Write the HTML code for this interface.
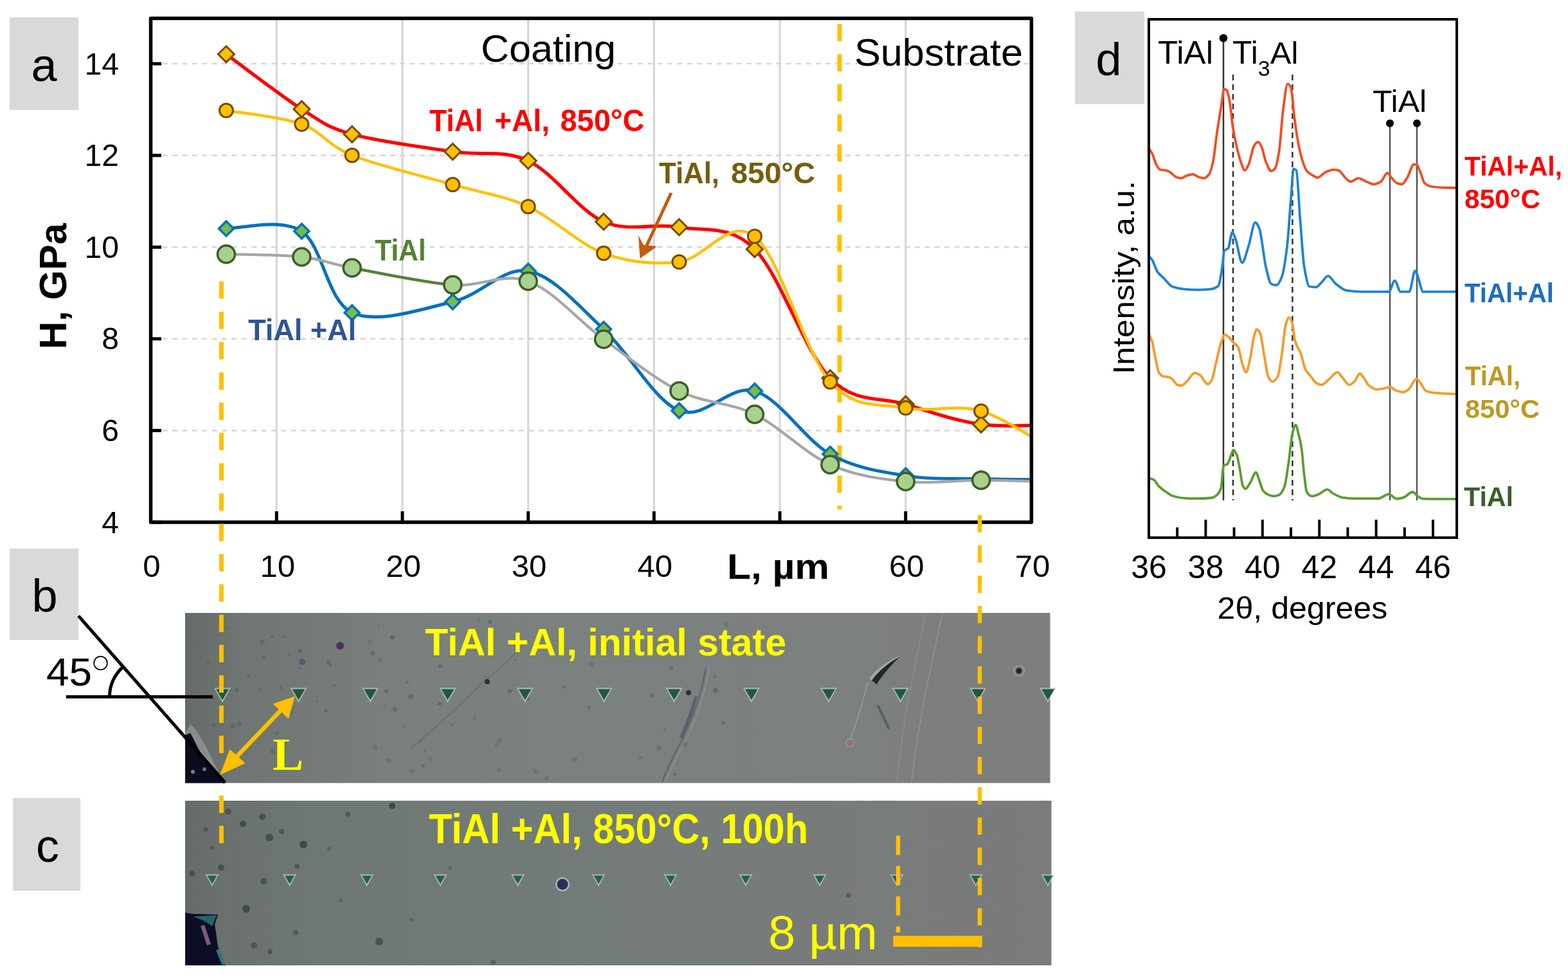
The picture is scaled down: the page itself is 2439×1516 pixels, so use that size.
<!DOCTYPE html>
<html><head><meta charset="utf-8"><title>Figure</title>
<style>
html,body{margin:0;padding:0;background:#fff;}
body{width:2439px;height:1516px;overflow:hidden;}
svg{display:block;}
text{font-family:'Liberation Sans', Arial, sans-serif;}
</style></head><body>
<svg width="2439" height="1516" viewBox="0 0 2439 1516">
<defs>
<clipPath id="plotclip"><rect x="234.5" y="28" width="1369.9" height="786"/></clipPath>
<linearGradient id="imgb" x1="0" y1="0" x2="1" y2="0">
 <stop offset="0" stop-color="#646b68"/>
 <stop offset="0.06" stop-color="#6e7572"/>
 <stop offset="0.23" stop-color="#787f7d"/>
 <stop offset="0.455" stop-color="#7a817f"/>
 <stop offset="0.74" stop-color="#7c807f"/>
 <stop offset="1" stop-color="#7d7e7e"/>
</linearGradient>
<linearGradient id="imgc" x1="0" y1="0" x2="1" y2="0">
 <stop offset="0" stop-color="#646b69"/>
 <stop offset="0.05" stop-color="#6a716f"/>
 <stop offset="0.15" stop-color="#6f7775"/>
 <stop offset="0.35" stop-color="#727a78"/>
 <stop offset="0.57" stop-color="#757c7a"/>
 <stop offset="0.8" stop-color="#787c7b"/>
 <stop offset="1" stop-color="#7a7b7b"/>
</linearGradient>
<radialGradient id="spk" cx="0.5" cy="0.5" r="0.5">
 <stop offset="0" stop-color="#3c4442" stop-opacity="0.8"/>
 <stop offset="1" stop-color="#3c4442" stop-opacity="0"/>
</radialGradient>
</defs>
<rect x="0" y="0" width="2439" height="1516" fill="#ffffff"/>

<rect x="15" y="27" width="107" height="144" fill="#d9d9d9"/>
<text x="68.5" y="126" font-size="72" text-anchor="middle" fill="#000">a</text>
<rect x="15" y="853" width="107" height="142" fill="#d9d9d9"/>
<text x="69.5" y="951" font-size="72" text-anchor="middle" fill="#000">b</text>
<rect x="20" y="1241" width="105" height="144" fill="#d9d9d9"/>
<text x="74" y="1340" font-size="72" text-anchor="middle" fill="#000">c</text>
<rect x="1672" y="18" width="108" height="144" fill="#d9d9d9"/>
<text x="1724.5" y="117" font-size="72" text-anchor="middle" fill="#000">d</text>
<line x1="430.2" y1="30" x2="430.2" y2="810" stroke="#d4d4d4" stroke-width="3"/>
<line x1="625.9" y1="30" x2="625.9" y2="810" stroke="#d4d4d4" stroke-width="3"/>
<line x1="821.6" y1="30" x2="821.6" y2="810" stroke="#d4d4d4" stroke-width="3"/>
<line x1="1017.3" y1="30" x2="1017.3" y2="810" stroke="#d4d4d4" stroke-width="3"/>
<line x1="1213.0" y1="30" x2="1213.0" y2="810" stroke="#d4d4d4" stroke-width="3"/>
<line x1="1408.7" y1="30" x2="1408.7" y2="810" stroke="#d4d4d4" stroke-width="3"/>
<line x1="252.5" y1="669.4" x2="1604.4" y2="669.4" stroke="#d6d6d6" stroke-width="2.5" stroke-dasharray="8 7.4"/>
<line x1="252.5" y1="526.8" x2="1604.4" y2="526.8" stroke="#d6d6d6" stroke-width="2.5" stroke-dasharray="8 7.4"/>
<line x1="252.5" y1="384.3" x2="1604.4" y2="384.3" stroke="#d6d6d6" stroke-width="2.5" stroke-dasharray="8 7.4"/>
<line x1="252.5" y1="241.7" x2="1604.4" y2="241.7" stroke="#d6d6d6" stroke-width="2.5" stroke-dasharray="8 7.4"/>
<line x1="252.5" y1="99.1" x2="1604.4" y2="99.1" stroke="#d6d6d6" stroke-width="2.5" stroke-dasharray="8 7.4"/>
<line x1="1306" y1="37.4" x2="1306" y2="792" stroke="#ffc000" stroke-width="7" stroke-dasharray="26.7 20.1"/>
<g clip-path="url(#plotclip)" fill="none" stroke-linecap="round" stroke-linejoin="round">
<path d="M351.9,84.3 C371.5,98.5 436.7,148.9 469.3,169.7 C502.0,190.4 508.5,197.8 547.6,208.8 C586.8,219.8 658.5,228.9 704.2,235.8 C749.8,242.7 782.5,231.9 821.6,250.0 C860.7,268.2 899.9,327.5 939.0,344.7 C978.2,361.9 1017.3,346.1 1056.4,353.2 C1095.6,360.3 1134.7,348.2 1173.9,387.4 C1213.0,426.5 1252.1,547.8 1291.3,588.0 C1330.4,628.2 1369.6,616.6 1408.7,628.6 C1447.8,640.5 1487.0,654.7 1526.1,659.9 C1565.3,665.1 1624.0,659.9 1643.5,659.9" stroke="#ff0000" stroke-width="5.2" fill="none"/>
<path d="M351.9,71.8 L364.4,84.3 L351.9,96.8 L339.4,84.3 Z" fill="#ffc000" stroke="#7a4a00" stroke-width="3" stroke-linejoin="miter"/><path d="M469.3,157.2 L481.8,169.7 L469.3,182.2 L456.8,169.7 Z" fill="#ffc000" stroke="#7a4a00" stroke-width="3" stroke-linejoin="miter"/><path d="M547.6,196.3 L560.1,208.8 L547.6,221.3 L535.1,208.8 Z" fill="#ffc000" stroke="#7a4a00" stroke-width="3" stroke-linejoin="miter"/><path d="M704.2,223.3 L716.7,235.8 L704.2,248.3 L691.7,235.8 Z" fill="#ffc000" stroke="#7a4a00" stroke-width="3" stroke-linejoin="miter"/><path d="M821.6,237.5 L834.1,250.0 L821.6,262.5 L809.1,250.0 Z" fill="#ffc000" stroke="#7a4a00" stroke-width="3" stroke-linejoin="miter"/><path d="M939.0,332.2 L951.5,344.7 L939.0,357.2 L926.5,344.7 Z" fill="#ffc000" stroke="#7a4a00" stroke-width="3" stroke-linejoin="miter"/><path d="M1056.4,340.7 L1068.9,353.2 L1056.4,365.7 L1043.9,353.2 Z" fill="#ffc000" stroke="#7a4a00" stroke-width="3" stroke-linejoin="miter"/><path d="M1173.9,374.9 L1186.4,387.4 L1173.9,399.9 L1161.4,387.4 Z" fill="#ffc000" stroke="#7a4a00" stroke-width="3" stroke-linejoin="miter"/><path d="M1291.3,575.5 L1303.8,588.0 L1291.3,600.5 L1278.8,588.0 Z" fill="#ffc000" stroke="#7a4a00" stroke-width="3" stroke-linejoin="miter"/><path d="M1408.7,616.1 L1421.2,628.6 L1408.7,641.1 L1396.2,628.6 Z" fill="#ffc000" stroke="#7a4a00" stroke-width="3" stroke-linejoin="miter"/><path d="M1526.1,647.4 L1538.6,659.9 L1526.1,672.4 L1513.6,659.9 Z" fill="#ffc000" stroke="#7a4a00" stroke-width="3" stroke-linejoin="miter"/>
<path d="M351.9,171.8 C371.5,175.3 436.7,181.5 469.3,193.1 C502.0,204.8 508.5,225.9 547.6,241.5 C586.8,257.2 658.5,273.8 704.2,287.0 C749.8,300.3 782.5,303.4 821.6,321.2 C860.7,339.0 899.9,379.4 939.0,393.8 C978.2,408.1 1017.3,411.7 1056.4,407.3 C1095.6,402.9 1134.7,336.4 1173.9,367.4 C1213.0,398.5 1252.1,549.2 1291.3,593.7 C1330.4,638.2 1369.6,626.7 1408.7,634.3 C1447.8,641.8 1487.0,627.7 1526.1,639.2 C1565.3,650.7 1624.0,692.6 1643.5,703.3" stroke="#ffc000" stroke-width="4.5" fill="none"/>
<circle cx="351.9" cy="171.8" r="10.5" fill="#ffc000" stroke="#7a4a00" stroke-width="3"/><circle cx="469.3" cy="193.1" r="10.5" fill="#ffc000" stroke="#7a4a00" stroke-width="3"/><circle cx="547.6" cy="241.5" r="10.5" fill="#ffc000" stroke="#7a4a00" stroke-width="3"/><circle cx="704.2" cy="287.0" r="10.5" fill="#ffc000" stroke="#7a4a00" stroke-width="3"/><circle cx="821.6" cy="321.2" r="10.5" fill="#ffc000" stroke="#7a4a00" stroke-width="3"/><circle cx="939.0" cy="393.8" r="10.5" fill="#ffc000" stroke="#7a4a00" stroke-width="3"/><circle cx="1056.4" cy="407.3" r="10.5" fill="#ffc000" stroke="#7a4a00" stroke-width="3"/><circle cx="1173.9" cy="367.4" r="10.5" fill="#ffc000" stroke="#7a4a00" stroke-width="3"/><circle cx="1291.3" cy="593.7" r="10.5" fill="#ffc000" stroke="#7a4a00" stroke-width="3"/><circle cx="1408.7" cy="634.3" r="10.5" fill="#ffc000" stroke="#7a4a00" stroke-width="3"/><circle cx="1526.1" cy="639.2" r="10.5" fill="#ffc000" stroke="#7a4a00" stroke-width="3"/>
<path d="M351.9,355.4 C371.5,356.1 436.7,337.8 469.3,359.6 C502.0,381.4 508.5,468.0 547.6,486.3 C586.8,504.5 658.5,480.0 704.2,469.2 C749.8,458.4 782.5,414.4 821.6,421.5 C860.7,428.6 899.9,475.7 939.0,511.9 C978.2,548.0 1017.3,622.5 1056.4,638.5 C1095.6,654.5 1134.7,596.7 1173.9,607.9 C1213.0,619.2 1252.1,684.2 1291.3,706.1 C1330.4,728.1 1369.6,733.2 1408.7,739.6 C1447.8,746.0 1487.0,743.5 1526.1,744.5 C1565.3,745.6 1624.0,745.7 1643.5,746.0" stroke="#0070c0" stroke-width="5" fill="none"/>
<path d="M351.9,343.9 L363.4,355.4 L351.9,366.9 L340.4,355.4 Z" fill="#77bb44" stroke="#0070c0" stroke-width="3.5" stroke-linejoin="miter"/><path d="M469.3,348.1 L480.8,359.6 L469.3,371.1 L457.8,359.6 Z" fill="#77bb44" stroke="#0070c0" stroke-width="3.5" stroke-linejoin="miter"/><path d="M547.6,474.8 L559.1,486.3 L547.6,497.8 L536.1,486.3 Z" fill="#77bb44" stroke="#0070c0" stroke-width="3.5" stroke-linejoin="miter"/><path d="M704.2,457.7 L715.7,469.2 L704.2,480.7 L692.7,469.2 Z" fill="#77bb44" stroke="#0070c0" stroke-width="3.5" stroke-linejoin="miter"/><path d="M821.6,410.0 L833.1,421.5 L821.6,433.0 L810.1,421.5 Z" fill="#77bb44" stroke="#0070c0" stroke-width="3.5" stroke-linejoin="miter"/><path d="M939.0,500.4 L950.5,511.9 L939.0,523.4 L927.5,511.9 Z" fill="#77bb44" stroke="#0070c0" stroke-width="3.5" stroke-linejoin="miter"/><path d="M1056.4,627.0 L1067.9,638.5 L1056.4,650.0 L1044.9,638.5 Z" fill="#77bb44" stroke="#0070c0" stroke-width="3.5" stroke-linejoin="miter"/><path d="M1173.9,596.4 L1185.4,607.9 L1173.9,619.4 L1162.4,607.9 Z" fill="#77bb44" stroke="#0070c0" stroke-width="3.5" stroke-linejoin="miter"/><path d="M1291.3,694.6 L1302.8,706.1 L1291.3,717.6 L1279.8,706.1 Z" fill="#77bb44" stroke="#0070c0" stroke-width="3.5" stroke-linejoin="miter"/><path d="M1408.7,728.1 L1420.2,739.6 L1408.7,751.1 L1397.2,739.6 Z" fill="#77bb44" stroke="#0070c0" stroke-width="3.5" stroke-linejoin="miter"/><path d="M1526.1,733.0 L1537.6,744.5 L1526.1,756.0 L1514.6,744.5 Z" fill="#77bb44" stroke="#0070c0" stroke-width="3.5" stroke-linejoin="miter"/>
<path d="M351.9,395.2 C371.5,395.9 436.7,395.9 469.3,399.5 C502.0,403.0 508.5,409.3 547.6,416.5 C586.8,423.8 658.5,439.4 704.2,442.9 C749.8,446.3 782.5,423.1 821.6,437.2 C860.7,451.3 899.9,499.1 939.0,527.5 C978.2,556.0 1017.3,588.5 1056.4,607.9 C1095.6,627.4 1134.7,625.1 1173.9,644.2 C1213.0,663.3 1252.1,705.1 1291.3,722.5 C1330.4,739.9 1369.6,744.8 1408.7,748.8 C1447.8,752.8 1487.0,746.6 1526.1,746.7 C1565.3,746.8 1624.0,749.0 1643.5,749.5" stroke="#a6a6a6" stroke-width="4.3" fill="none"/>
<path d="M547.6,416.5 C586.8,423.8 658.5,439.4 704.2,442.9" stroke="#548235" stroke-width="4.5" fill="none"/>
<circle cx="351.9" cy="395.2" r="13.5" fill="#a9d18e" stroke="#3b5e27" stroke-width="3.5"/><circle cx="469.3" cy="399.5" r="13.5" fill="#a9d18e" stroke="#3b5e27" stroke-width="3.5"/><circle cx="547.6" cy="416.5" r="13.5" fill="#a9d18e" stroke="#3b5e27" stroke-width="3.5"/><circle cx="704.2" cy="442.9" r="13.5" fill="#a9d18e" stroke="#3b5e27" stroke-width="3.5"/><circle cx="821.6" cy="437.2" r="13.5" fill="#a9d18e" stroke="#3b5e27" stroke-width="3.5"/><circle cx="939.0" cy="527.5" r="13.5" fill="#a9d18e" stroke="#3b5e27" stroke-width="3.5"/><circle cx="1056.4" cy="607.9" r="13.5" fill="#a9d18e" stroke="#3b5e27" stroke-width="3.5"/><circle cx="1173.9" cy="644.2" r="13.5" fill="#a9d18e" stroke="#3b5e27" stroke-width="3.5"/><circle cx="1291.3" cy="722.5" r="13.5" fill="#a9d18e" stroke="#3b5e27" stroke-width="3.5"/><circle cx="1408.7" cy="748.8" r="13.5" fill="#a9d18e" stroke="#3b5e27" stroke-width="3.5"/><circle cx="1526.1" cy="746.7" r="13.5" fill="#a9d18e" stroke="#3b5e27" stroke-width="3.5"/>
</g>
<path d="M1604.4,28.5 L234.5,28.5 L234.5,812 L1604.4,812 Z" fill="none" stroke="#000" stroke-width="5.5" stroke-linejoin="round"/>
<line x1="234.5" y1="812.0" x2="251" y2="812.0" stroke="#000" stroke-width="5"/>
<text x="185" y="828.5" font-size="48" text-anchor="end" fill="#000">4</text>
<line x1="234.5" y1="669.4" x2="251" y2="669.4" stroke="#000" stroke-width="5"/>
<text x="185" y="685.9" font-size="48" text-anchor="end" fill="#000">6</text>
<line x1="234.5" y1="526.8" x2="251" y2="526.8" stroke="#000" stroke-width="5"/>
<text x="185" y="543.3" font-size="48" text-anchor="end" fill="#000">8</text>
<line x1="234.5" y1="384.3" x2="251" y2="384.3" stroke="#000" stroke-width="5"/>
<text x="185" y="400.8" font-size="48" text-anchor="end" fill="#000">10</text>
<line x1="234.5" y1="241.7" x2="251" y2="241.7" stroke="#000" stroke-width="5"/>
<text x="185" y="258.2" font-size="48" text-anchor="end" fill="#000">12</text>
<line x1="234.5" y1="99.1" x2="251" y2="99.1" stroke="#000" stroke-width="5"/>
<text x="185" y="115.6" font-size="48" text-anchor="end" fill="#000">14</text>
<line x1="430.2" y1="812" x2="430.2" y2="795" stroke="#000" stroke-width="5"/>
<line x1="625.9" y1="812" x2="625.9" y2="795" stroke="#000" stroke-width="5"/>
<line x1="821.6" y1="812" x2="821.6" y2="795" stroke="#000" stroke-width="5"/>
<line x1="1017.3" y1="812" x2="1017.3" y2="795" stroke="#000" stroke-width="5"/>
<line x1="1213.0" y1="812" x2="1213.0" y2="795" stroke="#000" stroke-width="5"/>
<line x1="1408.7" y1="812" x2="1408.7" y2="795" stroke="#000" stroke-width="5"/>
<text x="236.0" y="897" font-size="49" text-anchor="middle" fill="#000">0</text>
<text x="431.7" y="897" font-size="49" text-anchor="middle" fill="#000">10</text>
<text x="627.4" y="897" font-size="49" text-anchor="middle" fill="#000">20</text>
<text x="823.1" y="897" font-size="49" text-anchor="middle" fill="#000">30</text>
<text x="1018.8" y="897" font-size="49" text-anchor="middle" fill="#000">40</text>
<text x="1410.2" y="897" font-size="49" text-anchor="middle" fill="#000">60</text>
<text x="1605.9" y="897" font-size="49" text-anchor="middle" fill="#000">70</text>
<text x="1131" y="900" font-size="56" font-weight="bold" textLength="159" lengthAdjust="spacingAndGlyphs" fill="#000">L, µm</text>
<text transform="translate(103,543) rotate(-90)" font-size="60" font-weight="bold" textLength="196" lengthAdjust="spacingAndGlyphs" fill="#000">H, GPa</text>
<text x="748" y="95.6" font-size="60" textLength="210" lengthAdjust="spacingAndGlyphs" fill="#000">Coating</text>
<text x="1329" y="101.5" font-size="60" textLength="262" lengthAdjust="spacingAndGlyphs" fill="#000">Substrate</text>
<g font-size="47.5" font-weight="bold" fill="#ff0000"><text x="668" y="203.8" textLength="83" lengthAdjust="spacingAndGlyphs">TiAl</text><text x="769" y="203.8" textLength="86" lengthAdjust="spacingAndGlyphs">+Al,</text><text x="871.5" y="203.8" textLength="131" lengthAdjust="spacingAndGlyphs">850°C</text></g>
<g font-size="46" font-weight="bold" fill="#745e0c"><text x="1025" y="285.3" textLength="94" lengthAdjust="spacingAndGlyphs">TiAl,</text><text x="1137" y="285.3" textLength="131" lengthAdjust="spacingAndGlyphs">850°C</text></g>
<text x="583" y="404.5" font-size="46" font-weight="bold" textLength="79.5" lengthAdjust="spacingAndGlyphs" fill="#548235">TiAl</text>
<text x="386" y="528.8" font-size="46" font-weight="bold" textLength="168" lengthAdjust="spacingAndGlyphs" fill="#2f5597">TiAl +Al</text>
<line x1="1044" y1="300" x2="1003" y2="388" stroke="#c55a11" stroke-width="5"/>
<path d="M995.6,402 L993,366 L1001,381 L1022,383 Z" fill="#c55a11"/>
<rect x="288" y="953" width="1345.5" height="264.5" fill="url(#imgb)"/>
<circle cx="575" cy="998" r="3.3" fill="#4a5553" opacity="0.22"/>
<circle cx="755" cy="1052" r="2.1" fill="#4a5553" opacity="0.33"/>
<circle cx="332" cy="1069" r="2.1" fill="#4a5553" opacity="0.22"/>
<circle cx="661" cy="1168" r="2.2" fill="#4a5553" opacity="0.26"/>
<circle cx="833" cy="1199" r="3.2" fill="#4a5553" opacity="0.30"/>
<circle cx="1130" cy="972" r="3.7" fill="#4a5553" opacity="0.27"/>
<circle cx="423" cy="990" r="2.6" fill="#4a5553" opacity="0.40"/>
<circle cx="454" cy="1107" r="3.3" fill="#4a5553" opacity="0.29"/>
<circle cx="766" cy="976" r="2.1" fill="#4a5553" opacity="0.25"/>
<circle cx="878" cy="1068" r="2.6" fill="#4a5553" opacity="0.35"/>
<circle cx="685" cy="1036" r="3.6" fill="#4a5553" opacity="0.37"/>
<circle cx="507" cy="1105" r="3.1" fill="#4a5553" opacity="0.42"/>
<circle cx="920" cy="1033" r="4.0" fill="#4a5553" opacity="0.23"/>
<circle cx="655" cy="1151" r="2.3" fill="#4a5553" opacity="0.32"/>
<circle cx="333" cy="1128" r="3.5" fill="#4a5553" opacity="0.34"/>
<circle cx="1044" cy="1039" r="3.4" fill="#4a5553" opacity="0.35"/>
<circle cx="793" cy="1075" r="3.7" fill="#4a5553" opacity="0.44"/>
<circle cx="703" cy="1127" r="2.1" fill="#4a5553" opacity="0.38"/>
<circle cx="850" cy="1210" r="3.6" fill="#4a5553" opacity="0.27"/>
<circle cx="628" cy="1129" r="2.0" fill="#4a5553" opacity="0.32"/>
<circle cx="443" cy="990" r="2.1" fill="#4a5553" opacity="0.39"/>
<circle cx="410" cy="1022" r="2.8" fill="#4a5553" opacity="0.42"/>
<circle cx="368" cy="1073" r="3.1" fill="#4a5553" opacity="0.42"/>
<circle cx="996" cy="1178" r="2.6" fill="#4a5553" opacity="0.30"/>
<circle cx="605" cy="1183" r="3.9" fill="#4a5553" opacity="0.24"/>
<circle cx="450" cy="1018" r="2.5" fill="#4a5553" opacity="0.32"/>
<circle cx="801" cy="1026" r="2.0" fill="#4a5553" opacity="0.30"/>
<circle cx="614" cy="1103" r="3.9" fill="#4a5553" opacity="0.37"/>
<circle cx="738" cy="1116" r="3.4" fill="#4a5553" opacity="0.21"/>
<circle cx="1065" cy="1157" r="3.7" fill="#4a5553" opacity="0.40"/>
<circle cx="634" cy="1061" r="2.2" fill="#4a5553" opacity="0.36"/>
<circle cx="353" cy="977" r="2.4" fill="#4a5553" opacity="0.24"/>
<circle cx="589" cy="973" r="2.0" fill="#4a5553" opacity="0.24"/>
<circle cx="386" cy="1052" r="2.1" fill="#4a5553" opacity="0.42"/>
<circle cx="822" cy="997" r="2.5" fill="#4a5553" opacity="0.29"/>
<circle cx="610" cy="991" r="3.7" fill="#4a5553" opacity="0.45"/>
<circle cx="696" cy="1082" r="2.2" fill="#4a5553" opacity="0.23"/>
<circle cx="591" cy="1027" r="3.7" fill="#4a5553" opacity="0.24"/>
<circle cx="320" cy="1200" r="3.1" fill="#4a5553" opacity="0.24"/>
<circle cx="762" cy="967" r="3.1" fill="#4a5553" opacity="0.44"/>
<circle cx="1034" cy="1135" r="2.5" fill="#4a5553" opacity="0.29"/>
<circle cx="442" cy="1155" r="3.1" fill="#4a5553" opacity="0.39"/>
<circle cx="580" cy="1016" r="3.6" fill="#4a5553" opacity="0.45"/>
<circle cx="1025" cy="1163" r="3.6" fill="#4a5553" opacity="0.38"/>
<circle cx="493" cy="1090" r="2.7" fill="#4a5553" opacity="0.21"/>
<circle cx="324" cy="1030" r="2.5" fill="#4a5553" opacity="0.37"/>
<circle cx="1113" cy="1073" r="3.9" fill="#4a5553" opacity="0.45"/>
<circle cx="1112" cy="1052" r="2.4" fill="#4a5553" opacity="0.26"/>
<circle cx="467" cy="1012" r="3.2" fill="#4a5553" opacity="0.43"/>
<circle cx="1014" cy="1081" r="3.3" fill="#4a5553" opacity="0.40"/>
<circle cx="372" cy="1126" r="3.8" fill="#4a5553" opacity="0.40"/>
<circle cx="938" cy="1080" r="2.4" fill="#4a5553" opacity="0.40"/>
<circle cx="583" cy="1162" r="3.9" fill="#4a5553" opacity="0.30"/>
<circle cx="641" cy="1199" r="3.4" fill="#4a5553" opacity="0.24"/>
<circle cx="408" cy="998" r="3.8" fill="#4a5553" opacity="0.40"/>
<circle cx="424" cy="1168" r="4.0" fill="#4a5553" opacity="0.36"/>
<circle cx="598" cy="1098" r="2.3" fill="#4a5553" opacity="0.20"/>
<circle cx="1125" cy="1124" r="3.1" fill="#4a5553" opacity="0.43"/>
<circle cx="669" cy="1180" r="3.7" fill="#4a5553" opacity="0.25"/>
<circle cx="514" cy="1034" r="2.5" fill="#4a5553" opacity="0.35"/>
<circle cx="520" cy="1066" r="2.3" fill="#4a5553" opacity="0.43"/>
<circle cx="601" cy="1075" r="3.2" fill="#4a5553" opacity="0.43"/>
<circle cx="658" cy="1191" r="3.0" fill="#4a5553" opacity="0.33"/>
<circle cx="745" cy="965" r="2.9" fill="#4a5553" opacity="0.25"/>
<circle cx="303" cy="1161" r="2.3" fill="#4a5553" opacity="0.32"/>
<circle cx="916" cy="1100" r="2.7" fill="#4a5553" opacity="0.33"/>
<circle cx="772" cy="1158" r="2.2" fill="#4a5553" opacity="0.34"/>
<circle cx="511" cy="1030" r="3.5" fill="#4a5553" opacity="0.33"/>
<circle cx="777" cy="1152" r="3.8" fill="#4a5553" opacity="0.31"/>
<circle cx="821" cy="1087" r="3.0" fill="#4a5553" opacity="0.37"/>
<circle cx="684" cy="1094" r="3.0" fill="#4a5553" opacity="0.44"/>
<circle cx="894" cy="1181" r="3.9" fill="#4a5553" opacity="0.26"/>
<circle cx="776" cy="1198" r="3.7" fill="#4a5553" opacity="0.23"/>
<circle cx="403" cy="1071" r="2.1" fill="#4a5553" opacity="0.26"/>
<circle cx="362" cy="1129" r="3.6" fill="#4a5553" opacity="0.42"/>
<circle cx="431" cy="1140" r="3.3" fill="#4a5553" opacity="0.24"/>
<circle cx="1050" cy="1204" r="2.4" fill="#4a5553" opacity="0.44"/>
<circle cx="639" cy="1083" r="4.0" fill="#4a5553" opacity="0.41"/>
<circle cx="437" cy="1069" r="3.0" fill="#4a5553" opacity="0.28"/>
<circle cx="466" cy="1040" r="3.4" fill="#4a5553" opacity="0.20"/>
<path d="M1098,1038 C1092,1075 1078,1115 1062,1148 C1048,1175 1036,1198 1030,1216" fill="none" stroke="#5a5f6e" stroke-width="2.5" opacity="0.75"/>
<path d="M1082,1085 C1076,1105 1070,1125 1060,1145" fill="none" stroke="#4e5462" stroke-width="5" stroke-linecap="round" opacity="0.7"/>
<path d="M1103,1040 C1097,1077 1083,1117 1067,1150 C1053,1177 1041,1200 1035,1216" fill="none" stroke="#a3aaa8" stroke-width="1.5" opacity="0.5"/>
<path d="M1466,953 C1450,1030 1430,1110 1418,1214" fill="none" stroke="#99a09e" stroke-width="2" opacity="0.5"/>
<path d="M1440,953 C1425,1030 1405,1110 1395,1214" fill="none" stroke="#99a09e" stroke-width="2" opacity="0.35"/>
<path d="M811,1005 C790,1030 765,1050 749,1062 C725,1090 700,1110 683,1125 C660,1145 645,1160 638,1165" fill="none" stroke="#5f6866" stroke-width="2.5" opacity="0.5"/>
<path d="M1352,1056 C1362,1040 1380,1028 1401,1019 C1386,1032 1374,1046 1366,1062 Z" fill="#b9c1bf" opacity="0.6"/>
<path d="M1356,1058 C1366,1044 1382,1030 1400,1021 C1384,1036 1372,1050 1364,1064 Z" fill="#1f2b2a"/>
<path d="M1366,1098 C1372,1110 1377,1120 1382,1132" fill="none" stroke="#4b5553" stroke-width="4" stroke-linecap="round" opacity="0.7"/>
<path d="M1350,1060 C1340,1100 1330,1130 1322,1150" fill="none" stroke="#9ca3a1" stroke-width="2" opacity="0.6"/>
<circle cx="529" cy="1004" r="6" fill="#4b2f5c"/>
<circle cx="470" cy="1029" r="5" fill="#4a5275" opacity="0.8"/>
<circle cx="758" cy="1060" r="4" fill="#2c3432"/>
<circle cx="1071" cy="1077" r="4" fill="#2c3432"/>
<circle cx="1585" cy="1043" r="8" fill="none" stroke="#a8b0ae" stroke-width="2" opacity="0.6"/>
<circle cx="1585" cy="1043" r="4.5" fill="#1e2624"/>
<circle cx="1322" cy="1155" r="6" fill="#8b6f80" stroke="#a898a0" stroke-width="1.5" opacity="0.8"/>
<path d="M296,1126 C308,1136 318,1156 328,1176 L342,1205 L352,1217.5 L288,1217.5 L288,1140 Z" fill="#b8c0be" opacity="0.4"/>
<path d="M288,1143 L296,1140 C302,1150 306,1160 312,1170 L348,1217.5 L288,1217.5 Z" fill="#0b0c1e"/>
<circle cx="300" cy="1200" r="3" fill="#d0d4d4" opacity="0.6"/>
<circle cx="318" cy="1196" r="3" fill="#d0d4d4" opacity="0.5"/>
<path d="M333.0,1069.5 L359.0,1069.5 L346.0,1092.5 Z" fill="#c4cbc9" opacity="0.75"/><path d="M336.0,1071.5 L356.0,1071.5 L346.0,1088.5 Z" fill="#1f5a3e"/>
<path d="M451.5,1069.5 L477.5,1069.5 L464.5,1092.5 Z" fill="#c4cbc9" opacity="0.75"/><path d="M454.5,1071.5 L474.5,1071.5 L464.5,1088.5 Z" fill="#1f5a3e"/>
<path d="M563.0,1069.5 L589.0,1069.5 L576.0,1092.5 Z" fill="#c4cbc9" opacity="0.75"/><path d="M566.0,1071.5 L586.0,1071.5 L576.0,1088.5 Z" fill="#1f5a3e"/>
<path d="M683.4,1069.5 L709.4,1069.5 L696.4,1092.5 Z" fill="#c4cbc9" opacity="0.75"/><path d="M686.4,1071.5 L706.4,1071.5 L696.4,1088.5 Z" fill="#1f5a3e"/>
<path d="M803.6,1069.5 L829.6,1069.5 L816.6,1092.5 Z" fill="#c4cbc9" opacity="0.75"/><path d="M806.6,1071.5 L826.6,1071.5 L816.6,1088.5 Z" fill="#1f5a3e"/>
<path d="M926.6,1069.5 L952.6,1069.5 L939.6,1092.5 Z" fill="#c4cbc9" opacity="0.75"/><path d="M929.6,1071.5 L949.6,1071.5 L939.6,1088.5 Z" fill="#1f5a3e"/>
<path d="M1035.6,1069.5 L1061.6,1069.5 L1048.6,1092.5 Z" fill="#c4cbc9" opacity="0.75"/><path d="M1038.6,1071.5 L1058.6,1071.5 L1048.6,1088.5 Z" fill="#1f5a3e"/>
<path d="M1155.8,1069.5 L1181.8,1069.5 L1168.8,1092.5 Z" fill="#c4cbc9" opacity="0.75"/><path d="M1158.8,1071.5 L1178.8,1071.5 L1168.8,1088.5 Z" fill="#1f5a3e"/>
<path d="M1276.0,1069.5 L1302.0,1069.5 L1289.0,1092.5 Z" fill="#c4cbc9" opacity="0.75"/><path d="M1279.0,1071.5 L1299.0,1071.5 L1289.0,1088.5 Z" fill="#1f5a3e"/>
<path d="M1387.7,1069.5 L1413.7,1069.5 L1400.7,1092.5 Z" fill="#c4cbc9" opacity="0.75"/><path d="M1390.7,1071.5 L1410.7,1071.5 L1400.7,1088.5 Z" fill="#1f5a3e"/>
<path d="M1508.0,1069.5 L1534.0,1069.5 L1521.0,1092.5 Z" fill="#c4cbc9" opacity="0.75"/><path d="M1511.0,1071.5 L1531.0,1071.5 L1521.0,1088.5 Z" fill="#1f5a3e"/>
<path d="M1617.0,1069.5 L1643.0,1069.5 L1630.0,1092.5 Z" fill="#c4cbc9" opacity="0.75"/><path d="M1620.0,1071.5 L1640.0,1071.5 L1630.0,1088.5 Z" fill="#1f5a3e"/>
<text x="661" y="1019.2" font-size="60" font-weight="bold" textLength="562" lengthAdjust="spacingAndGlyphs" fill="#ffff00">TiAl +Al, initial state</text>
<rect x="288" y="1245" width="1347.5" height="256" fill="url(#imgc)"/>
<circle cx="408" cy="1270" r="5" fill="#2f3a37" opacity="0.6"/>
<circle cx="378" cy="1281" r="5" fill="#2f3a37" opacity="0.7"/>
<circle cx="419" cy="1302" r="6" fill="#2f3a37" opacity="0.6"/>
<circle cx="438" cy="1293" r="4" fill="#2f3a37" opacity="0.5"/>
<circle cx="472" cy="1313" r="6" fill="#2f3a37" opacity="0.75"/>
<circle cx="344" cy="1349" r="5" fill="#2f3a37" opacity="0.6"/>
<circle cx="299" cy="1358" r="4" fill="#2f3a37" opacity="0.6"/>
<circle cx="410" cy="1370" r="5" fill="#2f3a37" opacity="0.55"/>
<circle cx="462" cy="1347" r="4" fill="#2f3a37" opacity="0.5"/>
<circle cx="383" cy="1413" r="6" fill="#2f3a37" opacity="0.7"/>
<circle cx="590" cy="1464" r="6" fill="#2f3a37" opacity="0.6"/>
<circle cx="541" cy="1266" r="4" fill="#2f3a37" opacity="0.45"/>
<circle cx="610" cy="1253" r="5" fill="#2f3a37" opacity="0.75"/>
<circle cx="767" cy="1496" r="4" fill="#2f3a37" opacity="0.4"/>
<circle cx="320" cy="1290" r="4" fill="#2f3a37" opacity="0.4"/>
<circle cx="355" cy="1262" r="5" fill="#2f3a37" opacity="0.5"/>
<circle cx="512" cy="1320" r="3" fill="#2f3a37" opacity="0.35"/>
<circle cx="530" cy="1400" r="3" fill="#2f3a37" opacity="0.3"/>
<circle cx="640" cy="1430" r="3" fill="#2f3a37" opacity="0.3"/>
<circle cx="700" cy="1350" r="3" fill="#2f3a37" opacity="0.3"/>
<circle cx="460" cy="1450" r="4" fill="#2f3a37" opacity="0.45"/>
<circle cx="395" cy="1470" r="5" fill="#2f3a37" opacity="0.5"/>
<circle cx="420" cy="1480" r="4" fill="#2f3a37" opacity="0.5"/>
<circle cx="330" cy="1318" r="3" fill="#2f3a37" opacity="0.4"/>
<circle cx="1320" cy="1392" r="4" fill="#6a4a5a" opacity="0.8"/>
<path d="M288,1419 L300,1421 L339,1422 L334,1437 L339,1472 L351,1501 L288,1501 Z" fill="#0b0d24"/>
<path d="M300,1425 L337,1423 L330,1440 L318,1432 Z" fill="#2a7d78" opacity="0.8"/>
<path d="M312,1440 L322,1470 L328,1468 L318,1438 Z" fill="#b07a9a" opacity="0.7"/>
<path d="M336,1478 L345,1500 L352,1500 L340,1475 Z" fill="#3a8f85" opacity="0.8"/>
<path d="M319.5,1359.5 L340.5,1359.5 L330.0,1378.5 Z" fill="#c4cbc9" opacity="0.75"/><path d="M322.5,1361.5 L337.5,1361.5 L330.0,1374.5 Z" fill="#1f6444"/>
<path d="M440.0,1359.5 L461.0,1359.5 L450.5,1378.5 Z" fill="#c4cbc9" opacity="0.75"/><path d="M443.0,1361.5 L458.0,1361.5 L450.5,1374.5 Z" fill="#1f6444"/>
<path d="M560.2,1359.5 L581.2,1359.5 L570.7,1378.5 Z" fill="#c4cbc9" opacity="0.75"/><path d="M563.2,1361.5 L578.2,1361.5 L570.7,1374.5 Z" fill="#1f6444"/>
<path d="M674.5,1359.5 L695.5,1359.5 L685.0,1378.5 Z" fill="#c4cbc9" opacity="0.75"/><path d="M677.5,1361.5 L692.5,1361.5 L685.0,1374.5 Z" fill="#1f6444"/>
<path d="M794.9,1359.5 L815.9,1359.5 L805.4,1378.5 Z" fill="#c4cbc9" opacity="0.75"/><path d="M797.9,1361.5 L812.9,1361.5 L805.4,1374.5 Z" fill="#1f6444"/>
<path d="M920.5,1359.5 L941.5,1359.5 L931.0,1378.5 Z" fill="#c4cbc9" opacity="0.75"/><path d="M923.5,1361.5 L938.5,1361.5 L931.0,1374.5 Z" fill="#1f6444"/>
<path d="M1032.5,1359.5 L1053.5,1359.5 L1043.0,1378.5 Z" fill="#c4cbc9" opacity="0.75"/><path d="M1035.5,1361.5 L1050.5,1361.5 L1043.0,1374.5 Z" fill="#1f6444"/>
<path d="M1149.5,1359.5 L1170.5,1359.5 L1160.0,1378.5 Z" fill="#c4cbc9" opacity="0.75"/><path d="M1152.5,1361.5 L1167.5,1361.5 L1160.0,1374.5 Z" fill="#1f6444"/>
<path d="M1264.5,1359.5 L1285.5,1359.5 L1275.0,1378.5 Z" fill="#c4cbc9" opacity="0.75"/><path d="M1267.5,1361.5 L1282.5,1361.5 L1275.0,1374.5 Z" fill="#1f6444"/>
<path d="M1384.5,1359.5 L1405.5,1359.5 L1395.0,1378.5 Z" fill="#c4cbc9" opacity="0.75"/><path d="M1387.5,1361.5 L1402.5,1361.5 L1395.0,1374.5 Z" fill="#1f6444"/>
<path d="M1507.5,1359.5 L1528.5,1359.5 L1518.0,1378.5 Z" fill="#c4cbc9" opacity="0.75"/><path d="M1510.5,1361.5 L1525.5,1361.5 L1518.0,1374.5 Z" fill="#1f6444"/>
<path d="M1619.5,1359.5 L1640.5,1359.5 L1630.0,1378.5 Z" fill="#c4cbc9" opacity="0.75"/><path d="M1622.5,1361.5 L1637.5,1361.5 L1630.0,1374.5 Z" fill="#1f6444"/>
<circle cx="875" cy="1375" r="11" fill="#c5ccc9" opacity="0.7"/>
<circle cx="875" cy="1375" r="8.5" fill="#2a2f5e"/>
<text x="667" y="1311" font-size="64" font-weight="bold" textLength="590" lengthAdjust="spacingAndGlyphs" fill="#ffff00">TiAl +Al, 850°C, 100h</text>
<line x1="344.4" y1="437.6" x2="344.4" y2="1180" stroke="#ffc000" stroke-width="7" stroke-dasharray="27 20.1"/>
<line x1="344.4" y1="1237" x2="344.4" y2="1311" stroke="#ffc000" stroke-width="7" stroke-dasharray="27 20.1"/>
<line x1="1524" y1="801" x2="1524" y2="1473" stroke="#ffc000" stroke-width="6.5" stroke-dasharray="27 20"/>
<line x1="1397" y1="1299.4" x2="1397" y2="1450" stroke="#ffc000" stroke-width="6.5" stroke-dasharray="30 17"/>
<rect x="1389.4" y="1455" width="138.2" height="17" fill="#ffc000"/>
<text x="1195" y="1476" font-size="74" textLength="170" lengthAdjust="spacingAndGlyphs" fill="#ffff00">8 µm</text>
<line x1="122" y1="957.6" x2="350" y2="1217" stroke="#000" stroke-width="5"/>
<line x1="102.8" y1="1083.4" x2="331" y2="1083.4" stroke="#000" stroke-width="5"/>
<path d="M170.4,1083.4 A62,62 0 0 1 191.5,1036.8" fill="none" stroke="#000" stroke-width="5"/>
<text x="72" y="1066" font-size="62" textLength="71" lengthAdjust="spacingAndGlyphs" fill="#000">45</text>
<circle cx="156.5" cy="1031" r="10.3" fill="none" stroke="#000" stroke-width="1.7"/>
<line x1="362" y1="1183" x2="440" y2="1101" stroke="#ffc000" stroke-width="6.5"/>
<path d="M342,1205 L357.4,1165.3 L369,1175 L381.5,1186.8 Z" fill="#ffc000"/>
<path d="M458.7,1082.8 L424.3,1094.4 L436,1105 L448.7,1117.7 Z" fill="#ffc000"/>
<text x="424" y="1197" font-size="72" font-weight="bold" fill="#ffff00" style="font-family:'Liberation Serif', 'Times New Roman', serif">L</text>
<g stroke-width="2.5">
<line x1="1903" y1="59" x2="1903" y2="778" stroke="#333"/>
<line x1="2162" y1="192" x2="2162" y2="778" stroke="#555"/>
<line x1="2204" y1="192" x2="2204" y2="778" stroke="#555"/>
<line x1="1918" y1="116" x2="1918" y2="778" stroke="#333" stroke-dasharray="9 6"/>
<line x1="2010.4" y1="116" x2="2010.4" y2="778" stroke="#333" stroke-dasharray="9 6"/>
</g>
<circle cx="1903" cy="59.3" r="6.3" fill="#000"/>
<circle cx="2162" cy="191.8" r="6" fill="#000"/>
<circle cx="2204" cy="191.8" r="6" fill="#000"/>
<path d="M1787.2,231.0 C1788.9,233.7 1790.6,235.8 1792.3,239.2 C1794.4,243.3 1796.4,251.9 1798.5,255.6 C1800.6,259.3 1802.6,263.4 1804.7,263.9 C1807.4,264.5 1810.2,264.4 1812.9,264.9 C1814.9,265.3 1817.0,266.1 1819.0,267.0 C1822.4,268.6 1825.9,273.9 1829.3,275.2 C1832.0,276.2 1834.8,277.2 1837.5,277.2 C1840.3,277.2 1843.0,273.9 1845.8,273.1 C1849.2,272.1 1852.6,271.0 1856.0,271.0 C1858.8,271.0 1861.5,274.3 1864.3,275.2 C1867.0,276.1 1869.8,277.2 1872.5,277.2 C1875.2,277.2 1878.0,274.4 1880.7,271.0 C1882.8,268.4 1884.8,260.6 1886.9,251.5 C1888.9,242.5 1891.0,220.1 1893.0,206.3 C1895.1,192.2 1897.1,179.6 1899.2,167.3 C1900.9,157.2 1902.6,138.5 1904.3,138.5 C1905.7,138.5 1907.0,139.4 1908.4,140.6 C1909.8,141.9 1911.2,149.7 1912.6,157.0 C1914.3,165.8 1916.0,187.5 1917.7,198.0 C1919.8,210.8 1921.8,220.1 1923.9,228.9 C1925.9,237.5 1928.0,245.9 1930.0,251.5 C1932.1,257.1 1934.1,264.9 1936.2,264.9 C1938.2,264.9 1940.3,259.8 1942.3,255.6 C1945.1,249.9 1947.8,231.1 1950.6,226.9 C1952.6,223.8 1954.7,220.7 1956.7,220.7 C1958.4,220.7 1960.2,223.9 1961.9,226.9 C1964.3,231.0 1966.6,246.0 1969.0,251.5 C1971.8,258.0 1974.5,265.9 1977.3,265.9 C1979.4,265.9 1981.4,264.2 1983.5,261.8 C1985.5,259.5 1987.6,247.6 1989.6,235.1 C1991.7,222.4 1993.7,186.7 1995.8,171.4 C1998.2,153.7 2000.6,130.3 2003.0,130.3 C2004.7,130.3 2006.4,132.8 2008.1,136.4 C2009.8,140.0 2011.6,168.4 2013.3,181.7 C2015.0,194.7 2016.7,207.1 2018.4,216.6 C2020.5,228.1 2022.5,238.6 2024.6,245.4 C2027.3,254.4 2030.1,262.7 2032.8,265.9 C2035.5,269.1 2038.3,270.5 2041.0,272.1 C2043.7,273.7 2046.5,276.2 2049.2,276.2 C2053.3,276.2 2057.4,269.8 2061.5,268.0 C2065.6,266.2 2069.8,263.9 2073.9,263.9 C2076.6,263.9 2079.4,264.3 2082.1,264.9 C2085.5,265.6 2089.0,273.1 2092.4,276.2 C2095.1,278.6 2097.9,282.4 2100.6,282.4 C2104.7,282.4 2108.8,277.2 2112.9,277.2 C2117.0,277.2 2121.2,280.9 2125.3,282.4 C2129.4,283.9 2133.5,286.5 2137.6,286.5 C2141.0,286.5 2144.5,284.5 2147.9,282.4 C2151.3,280.3 2154.7,269.0 2158.1,269.0 C2160.2,269.0 2162.2,274.0 2164.3,276.2 C2167.0,279.1 2169.8,283.3 2172.5,284.4 C2175.2,285.5 2178.0,286.5 2180.7,286.5 C2183.5,286.5 2186.2,280.4 2189.0,276.2 C2192.4,271.0 2195.8,255.6 2199.2,255.6 C2200.6,255.6 2201.9,255.6 2203.3,255.6 C2205.4,255.6 2207.4,263.3 2209.5,268.0 C2211.6,272.7 2213.6,282.3 2215.7,284.4 C2218.4,287.2 2221.2,288.9 2223.9,289.5 C2230.1,290.8 2236.2,291.3 2242.4,291.6 C2249.9,291.9 2257.5,292.0 2265.0,292.2" fill="none" stroke="#f04e23" stroke-width="3.8" stroke-linejoin="round" stroke-linecap="round"/>
<path d="M1787.2,398.2 C1788.9,400.3 1790.6,401.8 1792.3,404.4 C1795.1,408.7 1797.8,419.0 1800.6,422.9 C1804.0,427.7 1807.4,429.8 1810.8,433.2 C1814.9,437.3 1819.1,443.9 1823.2,445.5 C1829.4,447.8 1835.5,449.1 1841.7,449.6 C1848.5,450.2 1855.4,450.6 1862.2,450.6 C1869.1,450.6 1875.9,450.2 1882.8,449.6 C1886.9,449.2 1891.0,448.0 1895.1,444.5 C1897.1,442.8 1899.2,427.3 1901.2,414.7 C1902.2,408.3 1903.3,391.4 1904.3,390.0 C1906.4,387.2 1908.4,388.2 1910.5,385.9 C1912.6,383.6 1914.6,361.2 1916.7,361.2 C1918.4,361.2 1920.1,367.2 1921.8,371.5 C1925.2,380.1 1928.7,408.5 1932.1,408.5 C1935.5,408.5 1938.9,392.0 1942.3,381.8 C1945.7,371.5 1949.2,345.8 1952.6,345.8 C1954.7,345.8 1956.7,350.4 1958.8,355.1 C1962.2,362.8 1965.6,400.7 1969.0,414.7 C1971.8,426.1 1974.5,440.1 1977.3,441.4 C1980.0,442.7 1982.8,443.5 1985.5,443.5 C1988.2,443.5 1991.0,437.6 1993.7,431.1 C1996.5,424.5 1999.2,405.9 2002.0,383.9 C2004.0,367.7 2006.1,331.5 2008.1,307.8 C2009.5,291.9 2010.8,262.6 2012.2,262.6 C2013.6,262.6 2014.9,263.4 2016.3,264.7 C2018.4,266.6 2020.4,317.8 2022.5,342.8 C2024.6,367.8 2026.6,402.7 2028.7,414.7 C2031.4,430.6 2034.2,445.0 2036.9,445.5 C2040.3,446.2 2043.8,446.5 2047.2,446.5 C2049.9,446.5 2052.7,441.8 2055.4,439.3 C2058.8,436.1 2062.3,429.1 2065.7,429.1 C2069.8,429.1 2073.9,438.2 2078.0,441.4 C2083.5,445.7 2088.9,450.9 2094.4,451.7 C2102.6,452.9 2110.9,453.7 2119.1,453.7 C2132.8,453.7 2146.5,453.7 2160.2,453.7 C2163.3,453.7 2166.3,436.3 2169.4,436.3 C2172.5,436.3 2175.6,453.7 2178.7,453.7 C2183.1,453.7 2187.6,453.7 2192.0,453.7 C2195.1,453.7 2198.2,420.8 2201.3,420.8 C2203.0,420.8 2204.7,428.8 2206.4,433.2 C2208.8,439.5 2211.2,453.7 2213.6,453.7 C2230.7,453.7 2247.9,453.7 2265.0,453.7" fill="none" stroke="#1e83d4" stroke-width="3.8" stroke-linejoin="round" stroke-linecap="round"/>
<path d="M1788.2,521.4 C1789.6,524.8 1790.9,527.1 1792.3,531.7 C1793.7,536.3 1795.0,545.8 1796.4,552.2 C1798.5,561.8 1800.5,575.5 1802.6,578.9 C1804.7,582.3 1806.7,584.6 1808.8,585.1 C1811.5,585.7 1814.3,585.5 1817.0,586.1 C1819.1,586.5 1821.1,587.8 1823.2,589.2 C1825.9,591.1 1828.7,597.6 1831.4,598.4 C1833.4,599.0 1835.5,599.5 1837.5,599.5 C1840.9,599.5 1844.4,594.4 1847.8,591.2 C1851.2,588.0 1854.7,579.9 1858.1,579.9 C1860.8,579.9 1863.6,581.5 1866.3,583.0 C1870.4,585.3 1874.5,597.4 1878.6,597.4 C1880.7,597.4 1882.7,594.5 1884.8,591.2 C1886.9,587.9 1888.9,574.8 1891.0,566.6 C1893.7,555.7 1896.5,541.3 1899.2,533.7 C1901.3,528.0 1903.3,520.3 1905.4,520.3 C1907.4,520.3 1909.5,522.7 1911.5,524.5 C1913.6,526.3 1915.6,529.5 1917.7,531.7 C1920.4,534.6 1923.2,535.4 1925.9,539.9 C1928.0,543.3 1930.0,558.4 1932.1,564.5 C1934.1,570.5 1936.2,578.9 1938.2,578.9 C1940.3,578.9 1942.3,567.0 1944.4,558.4 C1946.5,549.8 1948.5,530.9 1950.6,523.4 C1952.0,518.5 1953.3,512.1 1954.7,512.1 C1956.4,512.1 1958.1,514.5 1959.8,517.3 C1962.2,521.3 1964.6,543.9 1967.0,556.3 C1969.1,567.0 1971.1,583.6 1973.2,587.1 C1975.2,590.5 1977.3,593.3 1979.3,593.3 C1982.1,593.3 1984.8,589.9 1987.6,585.1 C1989.6,581.6 1991.7,565.0 1993.7,552.2 C1995.8,539.1 1997.8,511.9 1999.9,504.9 C2001.6,499.2 2003.3,493.6 2005.0,493.6 C2006.7,493.6 2008.5,497.9 2010.2,502.9 C2011.6,506.8 2012.9,524.8 2014.3,529.6 C2017.4,540.5 2020.4,541.7 2023.5,550.1 C2025.9,556.6 2028.3,570.3 2030.7,574.8 C2033.4,579.9 2036.2,581.7 2038.9,585.1 C2041.7,588.6 2044.4,593.8 2047.2,595.4 C2049.9,596.9 2052.7,598.4 2055.4,598.4 C2059.5,598.4 2063.6,592.4 2067.7,589.2 C2071.8,586.0 2075.9,578.9 2080.0,578.9 C2082.8,578.9 2085.5,584.2 2088.3,587.1 C2091.7,590.6 2095.1,598.4 2098.5,598.4 C2101.3,598.4 2104.0,595.7 2106.8,593.3 C2109.5,590.9 2112.3,581.0 2115.0,581.0 C2117.0,581.0 2119.1,584.7 2121.1,587.1 C2123.9,590.4 2126.6,597.4 2129.4,599.5 C2133.5,602.7 2137.6,605.6 2141.7,605.6 C2145.8,605.6 2149.9,604.4 2154.0,603.6 C2156.7,603.0 2159.5,601.5 2162.2,601.5 C2165.0,601.5 2167.7,605.7 2170.5,606.7 C2174.6,608.2 2178.7,609.7 2182.8,609.7 C2185.5,609.7 2188.3,607.5 2191.0,605.6 C2195.1,602.7 2199.2,589.2 2203.3,589.2 C2205.4,589.2 2207.4,592.9 2209.5,595.4 C2212.2,598.6 2215.0,606.6 2217.7,607.7 C2222.5,609.6 2227.3,610.3 2232.1,610.8 C2243.1,611.9 2254.0,612.1 2265.0,612.8" fill="none" stroke="#f59a2c" stroke-width="3.8" stroke-linejoin="round" stroke-linecap="round"/>
<path d="M1787.2,743.8 C1789.6,744.5 1792.0,744.7 1794.4,745.8 C1797.1,747.0 1799.9,753.4 1802.6,756.1 C1806.0,759.5 1809.5,762.0 1812.9,764.3 C1817.0,767.1 1821.1,770.3 1825.2,771.5 C1830.7,773.1 1836.2,774.3 1841.7,774.6 C1848.5,775.0 1855.4,775.2 1862.2,775.2 C1869.7,775.2 1877.3,774.8 1884.8,774.0 C1887.5,773.7 1890.3,771.8 1893.0,769.5 C1895.1,767.8 1897.1,765.2 1899.2,759.2 C1900.6,755.2 1901.9,725.7 1903.3,724.3 C1905.4,722.2 1907.4,722.9 1909.5,721.2 C1911.5,719.5 1913.6,710.3 1915.6,705.8 C1916.6,703.5 1917.7,699.6 1918.7,699.6 C1920.4,699.6 1922.2,703.7 1923.9,707.8 C1925.3,711.1 1926.6,719.5 1928.0,726.3 C1929.7,734.8 1931.4,751.7 1933.1,755.1 C1934.5,757.8 1935.8,760.2 1937.2,760.2 C1939.6,760.2 1942.0,754.5 1944.4,751.0 C1947.5,746.4 1950.6,734.5 1953.7,734.5 C1955.4,734.5 1957.1,742.6 1958.8,746.9 C1960.9,752.1 1962.9,760.8 1965.0,763.3 C1967.7,766.6 1970.5,768.5 1973.2,769.5 C1975.9,770.5 1978.7,771.5 1981.4,771.5 C1984.1,771.5 1986.9,770.6 1989.6,769.5 C1992.3,768.4 1995.1,763.8 1997.8,757.1 C1999.9,752.0 2001.9,735.6 2004.0,722.2 C2006.1,708.8 2008.1,683.2 2010.2,674.9 C2011.9,668.0 2013.6,660.6 2015.3,660.6 C2016.7,660.6 2018.0,667.9 2019.4,672.9 C2021.1,679.2 2022.9,686.2 2024.6,697.5 C2026.0,706.4 2027.3,727.8 2028.7,738.6 C2030.1,749.4 2031.4,763.4 2032.8,765.4 C2035.5,769.4 2038.3,771.5 2041.0,771.5 C2044.4,771.5 2047.9,769.7 2051.3,768.4 C2055.7,766.7 2060.2,761.2 2064.6,761.2 C2067.7,761.2 2070.8,765.8 2073.9,767.4 C2078.7,770.0 2083.5,772.9 2088.3,773.6 C2095.1,774.5 2102.0,775.2 2108.8,775.2 C2120.4,775.2 2132.1,775.2 2143.7,775.2 C2149.2,775.2 2154.7,768.4 2160.2,768.4 C2164.3,768.4 2168.4,775.6 2172.5,775.6 C2175.9,775.6 2179.4,774.6 2182.8,773.6 C2187.6,772.2 2192.4,765.0 2197.2,765.0 C2199.9,765.0 2202.7,769.8 2205.4,771.5 C2208.1,773.2 2210.9,775.5 2213.6,775.6 C2230.7,775.9 2247.9,775.9 2265.0,776.0" fill="none" stroke="#5a9e2e" stroke-width="3.8" stroke-linejoin="round" stroke-linecap="round"/>
<rect x="1787" y="30" width="479" height="806" fill="none" stroke="#000" stroke-width="4"/>
<line x1="1831.2" y1="836" x2="1831.2" y2="820" stroke="#000" stroke-width="4"/>
<line x1="1875.4" y1="836" x2="1875.4" y2="808" stroke="#000" stroke-width="4"/>
<line x1="1919.6" y1="836" x2="1919.6" y2="820" stroke="#000" stroke-width="4"/>
<line x1="1963.8" y1="836" x2="1963.8" y2="808" stroke="#000" stroke-width="4"/>
<line x1="2008.0" y1="836" x2="2008.0" y2="820" stroke="#000" stroke-width="4"/>
<line x1="2052.2" y1="836" x2="2052.2" y2="808" stroke="#000" stroke-width="4"/>
<line x1="2096.4" y1="836" x2="2096.4" y2="820" stroke="#000" stroke-width="4"/>
<line x1="2140.6" y1="836" x2="2140.6" y2="808" stroke="#000" stroke-width="4"/>
<line x1="2184.8" y1="836" x2="2184.8" y2="820" stroke="#000" stroke-width="4"/>
<line x1="2229.0" y1="836" x2="2229.0" y2="808" stroke="#000" stroke-width="4"/>
<text x="1787.0" y="898.6" font-size="50" text-anchor="middle" fill="#000">36</text>
<text x="1875.4" y="898.6" font-size="50" text-anchor="middle" fill="#000">38</text>
<text x="1963.8" y="898.6" font-size="50" text-anchor="middle" fill="#000">40</text>
<text x="2052.2" y="898.6" font-size="50" text-anchor="middle" fill="#000">42</text>
<text x="2140.6" y="898.6" font-size="50" text-anchor="middle" fill="#000">44</text>
<text x="2229.0" y="898.6" font-size="50" text-anchor="middle" fill="#000">46</text>
<text x="1893.6" y="961.7" font-size="48" textLength="264.6" lengthAdjust="spacingAndGlyphs" fill="#000">2θ, degrees</text>
<text transform="translate(1763.7,582) rotate(-90)" font-size="47" textLength="301" lengthAdjust="spacingAndGlyphs" fill="#000">Intensity, a.u.</text>
<text x="1801" y="99" font-size="50" textLength="86" lengthAdjust="spacingAndGlyphs" fill="#000">TiAl</text>
<text x="1917" y="99" font-size="50" fill="#000">Ti<tspan font-size="34" dy="19">3</tspan><tspan dy="-19" font-size="49">Al</tspan></text>
<text x="2135" y="174.3" font-size="49" textLength="84" lengthAdjust="spacingAndGlyphs" fill="#000">TiAl</text>
<text x="2278" y="272.8" font-size="42" font-weight="bold" textLength="152" lengthAdjust="spacingAndGlyphs" fill="#ff0000">TiAl+Al,</text>
<text x="2278" y="324.3" font-size="42" font-weight="bold" textLength="118" lengthAdjust="spacingAndGlyphs" fill="#ff0000">850°C</text>
<text x="2278" y="469.6" font-size="42" font-weight="bold" textLength="139" lengthAdjust="spacingAndGlyphs" fill="#1b70bf">TiAl+Al</text>
<text x="2279" y="599" font-size="42" font-weight="bold" textLength="86" lengthAdjust="spacingAndGlyphs" fill="#c4961e">TiAl,</text>
<text x="2279" y="649.8" font-size="40" font-weight="bold" textLength="116" lengthAdjust="spacingAndGlyphs" fill="#bd9a1e">850°C</text>
<text x="2277" y="787.2" font-size="42" font-weight="bold" textLength="77" lengthAdjust="spacingAndGlyphs" fill="#3b5f2c">TiAl</text>
</svg>
</body></html>
